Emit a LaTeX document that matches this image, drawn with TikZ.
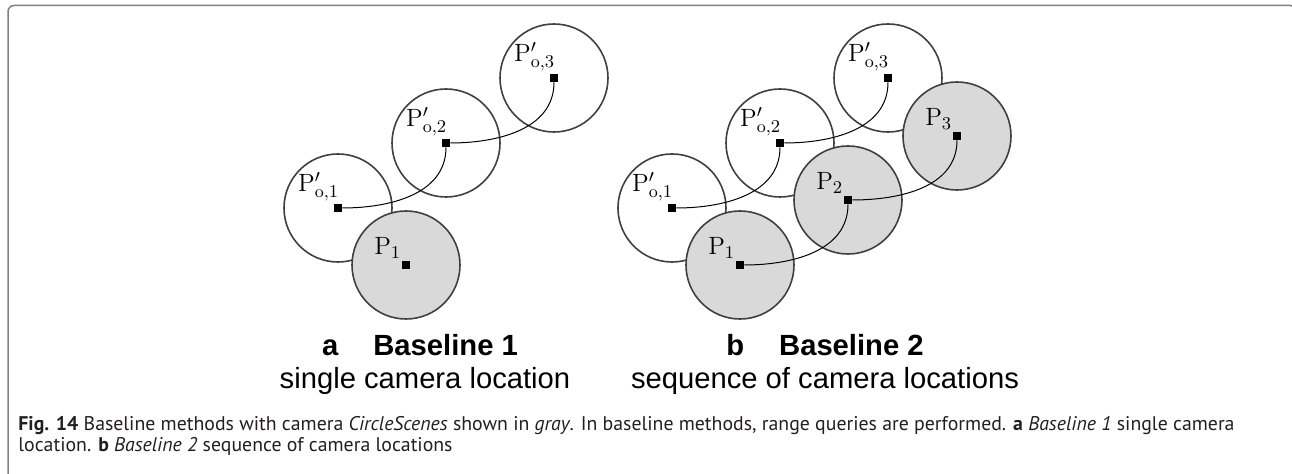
\documentclass[tikz,border=0pt]{standalone}
\usepackage{fontspec}
\usetikzlibrary{positioning}
\newfontfamily\arialfont{Liberation Sans}
\newfontfamily\capfont{PT Sans}
\definecolor{rimgray}{HTML}{404040}
\definecolor{camgray}{HTML}{D9D9D9}
\definecolor{framegray}{HTML}{7F7F7F}
\definecolor{captext}{HTML}{231F20}
\tikzset{
  scene/.style={circle, draw=rimgray, fill=white, line width=0.8pt, inner sep=0pt, minimum size=54pt},
  camscene/.style={scene, fill=camgray},
  pt/.style={rectangle, fill=black, inner sep=0pt, minimum size=4pt},
  ptlabel/.style={inner sep=0pt, font=\fontsize{12.5}{14}\selectfont},
  trail/.style={line width=0.5pt, black},
  title/.style={font=\arialfont\bfseries\fontsize{14.6}{18}\selectfont, anchor=base},
  subtitle/.style={font=\arialfont\fontsize{14.6}{17}\selectfont, anchor=base},
  capline/.style={font=\capfont\fontsize{9.9}{12}\selectfont, text=captext, anchor=base west, inner sep=0pt}
}
\begin{document}
\begin{tikzpicture}[x=0.5pt, y=-0.5pt]
  \useasboundingbox (0,0) rectangle (1292,474);
  % Frame
  \draw[framegray, line width=0.75pt, rounded corners=3pt] (8,490) -- (8,5.5) -- (1296,5.5) -- (1296,490);

  % (a) Baseline 1: scenes
  \node (a-so1) at (338,208) [scene] {};
  \node (a-so2) at (446,143) [scene] {};
  \node (a-so3) at (554,78) [scene] {};
  \node (a-sp1) at (406,265) [camscene] {};
  % (a) points
  \node (a-o1) at (338,208) [pt] {};
  \node (a-o2) at (446,143) [pt] {};
  \node (a-o3) at (554,78) [pt] {};
  \node (a-p1) at (406,265) [pt] {};
  \draw[trail] (a-o1) to[out=0, in=-90] (a-o2);
  \draw[trail] (a-o2) to[out=0, in=-90] (a-o3);
  % (a) labels
  \node[ptlabel, above left=1pt and -3pt of a-o1] {$\mathrm{P}'_{\mathrm{o},1}$};
  \node[ptlabel, above left=1pt and -3pt of a-o2] {$\mathrm{P}'_{\mathrm{o},2}$};
  \node[ptlabel, above left=1pt and -3pt of a-o3] {$\mathrm{P}'_{\mathrm{o},3}$};
  \node[ptlabel, above left=1pt and 0pt of a-p1] {$\mathrm{P}_{1}$};

  % (b) Baseline 2: scenes
  \node (b-so1) at (672,208) [scene] {};
  \node (b-so2) at (780,143) [scene] {};
  \node (b-so3) at (888,78) [scene] {};
  \node (b-sp1) at (740,265) [camscene] {};
  \node (b-sp2) at (848,200) [camscene] {};
  \node (b-sp3) at (957,136) [camscene] {};
  % (b) points
  \node (b-o1) at (672,208) [pt] {};
  \node (b-o2) at (780,143) [pt] {};
  \node (b-o3) at (888,78) [pt] {};
  \node (b-p1) at (740,265) [pt] {};
  \node (b-p2) at (848,200) [pt] {};
  \node (b-p3) at (957,136) [pt] {};
  \draw[trail] (b-o1) to[out=0, in=-90] (b-o2);
  \draw[trail] (b-o2) to[out=0, in=-90] (b-o3);
  \draw[trail] (b-p1) to[out=0, in=-90] (b-p2);
  \draw[trail] (b-p2) to[out=0, in=-90] (b-p3);
  % (b) labels
  \node[ptlabel, above left=1pt and -3pt of b-o1] {$\mathrm{P}'_{\mathrm{o},1}$};
  \node[ptlabel, above left=1pt and -3pt of b-o2] {$\mathrm{P}'_{\mathrm{o},2}$};
  \node[ptlabel, above left=1pt and -3pt of b-o3] {$\mathrm{P}'_{\mathrm{o},3}$};
  \node[ptlabel, above left=1pt and 0pt of b-p1] {$\mathrm{P}_{1}$};
  \node[ptlabel, above left=1pt and 0pt of b-p2] {$\mathrm{P}_{2}$};
  \node[ptlabel, above left=1pt and 0pt of b-p3] {$\mathrm{P}_{3}$};

  % Panel titles
  \node (a-title) at (420,356) [title] {a\hspace{1.2em}Baseline 1};
  \node (a-sub) at (425,389) [subtitle] {single camera location};
  \node (b-title) at (825,356) [title] {b\hspace{1.2em}Baseline 2};
  \node (b-sub) at (825,389) [subtitle] {sequence of camera locations};

  % Caption
  \node (cap1) at (18,431) [capline] {\textbf{Fig. 14} Baseline methods with camera \textit{CircleScenes} shown in \textit{gray}. In baseline methods, range queries are performed. \textbf{a} \textit{Baseline 1} single camera};
  \node (cap2) at (18,452) [capline] {location. \textbf{b} \textit{Baseline 2} sequence of camera locations};
\end{tikzpicture}
\end{document}
